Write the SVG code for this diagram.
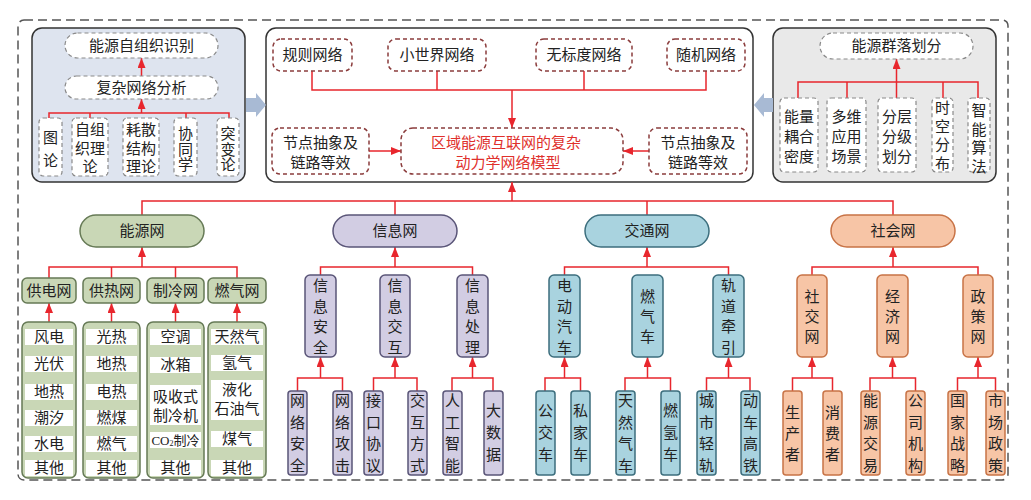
<svg xmlns="http://www.w3.org/2000/svg" width="1031" height="500" viewBox="0 0 1031 500">
<defs>
<style>
text{font-family:"Liberation Serif","Noto Sans CJK SC",serif;font-size:15px;fill:#222;text-anchor:middle;dominant-baseline:central}
.red{fill:#e0302c}
.ln{fill:none;stroke:#e8262d;stroke-width:1.5}
.ar{fill:none;stroke:#e8262d;stroke-width:1.5;marker-end:url(#ah)}
.gd{fill:#fff;stroke:#8a8a8a;stroke-width:1.2;stroke-dasharray:4 3}
.rd{fill:#fff;stroke:#8b3c3c;stroke-width:1.5;stroke-dasharray:4 3}
.en{fill:#c9d7b6;stroke:#667a56;stroke-width:1.5}
.inf{fill:#d2cde3;stroke:#5a5578;stroke-width:1.5}
.tr{fill:#a9d3df;stroke:#3c6e7d;stroke-width:1.5}
.so{fill:#f7c5a6;stroke:#c87346;stroke-width:1.5}
.wb{fill:#fff}
.blk{fill:#a8bad4}
</style>
<marker id="ah" markerWidth="10" markerHeight="8" refX="10" refY="4" orient="auto" markerUnits="userSpaceOnUse"><path d="M0,0 L10,4 L0,8 z" fill="#e8262d"/></marker>
</defs>
<rect x="0" y="0" width="1031" height="500" fill="#fff"/>
<rect x="18" y="20" width="990" height="460" rx="6" fill="none" stroke="#555" stroke-width="1.5" stroke-dasharray="9 5"/>

<!-- panels -->
<g id="panel-left">
<rect x="32" y="28" width="213" height="154" rx="10" fill="#dee4ef" stroke="#333" stroke-width="1.5"/>
</g>
<g id="panel-mid">
<rect x="266" y="28" width="487" height="154" rx="10" fill="#fff" stroke="#333" stroke-width="1.5"/>
</g>
<g id="panel-right">
<rect x="773" y="28" width="223" height="154" rx="10" fill="#e9e9e9" stroke="#333" stroke-width="1.5"/>
</g>
<polygon class="blk" points="246,98 256,98 256,93 266,105 256,117 256,112 246,112"/>
<polygon class="blk" points="773,98 764,98 764,93 754,105 764,117 764,112 773,112"/>

<!-- connectors -->
<g id="connectors">
<!-- left panel -->
<line class="ar" x1="141.5" y1="76" x2="141.5" y2="58"/>
<polyline class="ln" points="49,118 49,113 229,113 229,118"/>
<line class="ln" x1="90" y1="113" x2="90" y2="118"/>
<line class="ln" x1="186" y1="113" x2="186" y2="118"/>
<line class="ar" x1="141.5" y1="113" x2="141.5" y2="99"/>
<!-- mid panel -->
<polyline class="ln" points="312,71 312,90 706,90 706,71"/>
<line class="ln" x1="437" y1="71" x2="437" y2="90"/>
<line class="ln" x1="584" y1="71" x2="584" y2="90"/>
<line class="ar" x1="512" y1="90" x2="512" y2="128"/>
<line class="ar" x1="369" y1="151" x2="401" y2="151"/>
<line class="ar" x1="649" y1="151" x2="623" y2="151"/>
<!-- right panel -->
<polyline class="ln" points="798,98 798,82 978,82 978,98"/>
<line class="ln" x1="847" y1="82" x2="847" y2="98"/>
<line class="ln" x1="943" y1="82" x2="943" y2="98"/>
<line class="ar" x1="896.5" y1="98" x2="896.5" y2="59"/>
<!-- main bus -->
<polyline class="ln" points="142,215 142,201 893,201 893,215"/>
<line class="ln" x1="395" y1="201" x2="395" y2="215"/>
<line class="ln" x1="647" y1="201" x2="647" y2="215"/>
<line class="ar" x1="512" y1="201" x2="512" y2="182"/>
<!-- energy -->
<polyline class="ln" points="49,278 49,267 237,267 237,278"/>
<line class="ln" x1="111.5" y1="267" x2="111.5" y2="278"/>
<line class="ln" x1="175.5" y1="267" x2="175.5" y2="278"/>
<line class="ar" x1="142" y1="267" x2="142" y2="247"/>
<line class="ar" x1="49" y1="322" x2="49" y2="303"/>
<line class="ar" x1="111.5" y1="322" x2="111.5" y2="303"/>
<line class="ar" x1="175.5" y1="322" x2="175.5" y2="303"/>
<line class="ar" x1="237" y1="322" x2="237" y2="303"/>
<!-- info -->
<polyline class="ln" points="320.5,275 320.5,267 472.5,267 472.5,275"/>
<line class="ar" x1="395" y1="267" x2="395" y2="247"/>
<polyline class="ln" points="297.5,391 297.5,378 342.5,378 342.5,391"/>
<line class="ar" x1="320.5" y1="378" x2="320.5" y2="357"/>
<polyline class="ln" points="373.5,391 373.5,378 417,378 417,391"/>
<line class="ar" x1="395" y1="378" x2="395" y2="357"/>
<polyline class="ln" points="452,391 452,378 493,378 493,391"/>
<line class="ar" x1="472.5" y1="378" x2="472.5" y2="357"/>
<!-- traffic -->
<polyline class="ln" points="564.5,275 564.5,267 728.5,267 728.5,275"/>
<line class="ar" x1="647" y1="267" x2="647" y2="247"/>
<polyline class="ln" points="545,391 545,378 580.5,378 580.5,391"/>
<line class="ar" x1="564.5" y1="378" x2="564.5" y2="357"/>
<polyline class="ln" points="625,391 625,378 670.5,378 670.5,391"/>
<line class="ar" x1="647.5" y1="378" x2="647.5" y2="357"/>
<polyline class="ln" points="706.5,391 706.5,378 750,378 750,391"/>
<line class="ar" x1="728.5" y1="378" x2="728.5" y2="357"/>
<!-- social -->
<polyline class="ln" points="812,275 812,267 978,267 978,275"/>
<line class="ar" x1="893" y1="267" x2="893" y2="247"/>
<polyline class="ln" points="792.5,391 792.5,378 832.5,378 832.5,391"/>
<line class="ar" x1="812" y1="378" x2="812" y2="357"/>
<polyline class="ln" points="870,391 870,378 915.5,378 915.5,391"/>
<line class="ar" x1="892.5" y1="378" x2="892.5" y2="357"/>
<polyline class="ln" points="957.5,391 957.5,378 995.5,378 995.5,391"/>
<line class="ar" x1="978" y1="378" x2="978" y2="357"/>
</g>

<!-- left panel nodes -->
<g id="n-zzzsb"><rect class="gd" x="65" y="33" width="153" height="25" rx="12.5"/><text x="141.5" y="45.5">能源自组织识别</text></g>
<g id="n-fzwlfx"><rect class="gd" x="65" y="76" width="153" height="23" rx="11.5"/><text x="141.5" y="87.5">复杂网络分析</text></g>
<g id="n-tl"><rect class="gd" x="39" y="118" width="23" height="58" rx="4"/><text><tspan x="50.5" y="138">图</tspan><tspan x="50.5" y="161">论</tspan></text></g>
<g id="n-zzzll"><rect class="gd" x="72" y="118" width="36" height="58" rx="4"/><text><tspan x="90" y="130">自组</tspan><tspan x="90" y="148.5">织理</tspan><tspan x="90" y="167">论</tspan></text></g>
<g id="n-hsjgll"><rect class="gd" x="123" y="118" width="36" height="58" rx="4"/><text><tspan x="141" y="130">耗散</tspan><tspan x="141" y="148.5">结构</tspan><tspan x="141" y="167">理论</tspan></text></g>
<g id="n-xtx"><rect class="gd" x="174" y="118" width="23" height="58" rx="4"/><text><tspan x="185.5" y="134">协</tspan><tspan x="185.5" y="149.5">同</tspan><tspan x="185.5" y="165">学</tspan></text></g>
<g id="n-tbl"><rect class="gd" x="217" y="118" width="22" height="58" rx="4"/><text><tspan x="228" y="134">突</tspan><tspan x="228" y="149.5">变</tspan><tspan x="228" y="165">论</tspan></text></g>

<!-- mid panel nodes -->
<g id="n-gzwl"><rect class="rd" x="273" y="39" width="79" height="32" rx="8"/><text x="312.5" y="55">规则网络</text></g>
<g id="n-xsjwl"><rect class="rd" x="388" y="39" width="98" height="32" rx="8"/><text x="437" y="55">小世界网络</text></g>
<g id="n-wbdwl"><rect class="rd" x="536" y="39" width="96" height="32" rx="8"/><text x="584" y="55">无标度网络</text></g>
<g id="n-sjwl"><rect class="rd" x="667" y="39" width="78" height="32" rx="8"/><text x="706" y="55">随机网络</text></g>
<g id="n-model"><rect class="rd" x="401" y="128" width="222" height="46" rx="12"/><text class="red"><tspan x="506" y="143">区域能源互联网的复杂</tspan><tspan x="508" y="163">动力学网络模型</tspan></text></g>
<g id="n-jdcx-l"><rect class="rd" x="272" y="128" width="97" height="46" rx="8"/><text><tspan x="320.5" y="143">节点抽象及</tspan><tspan x="320.5" y="163">链路等效</tspan></text></g>
<g id="n-jdcx-r"><rect class="rd" x="649" y="128" width="98" height="46" rx="8"/><text><tspan x="698" y="143">节点抽象及</tspan><tspan x="698" y="163">链路等效</tspan></text></g>

<!-- right panel nodes -->
<g id="n-qlhf"><rect class="gd" x="820" y="33" width="153" height="26" rx="13"/><text x="896.5" y="46">能源群落划分</text></g>
<g id="n-nlohmd"><rect class="gd" x="780" y="98" width="38" height="74" rx="4"/><text><tspan x="799" y="117">能量</tspan><tspan x="799" y="137">耦合</tspan><tspan x="799" y="157">密度</tspan></text></g>
<g id="n-dwyycj"><rect class="gd" x="827" y="98" width="39" height="74" rx="4"/><text><tspan x="846.5" y="117">多维</tspan><tspan x="846.5" y="137">应用</tspan><tspan x="846.5" y="157">场景</tspan></text></g>
<g id="n-fcfjhf"><rect class="gd" x="878" y="98" width="38" height="74" rx="4"/><text><tspan x="897" y="117">分层</tspan><tspan x="897" y="137">分级</tspan><tspan x="897" y="157">划分</tspan></text></g>
<g id="n-skfb"><rect class="gd" x="932" y="98" width="21" height="74" rx="4"/><text><tspan x="942.5" y="108">时</tspan><tspan x="942.5" y="126.5">空</tspan><tspan x="942.5" y="145">分</tspan><tspan x="942.5" y="163.5">布</tspan></text></g>
<g id="n-znsf"><rect class="gd" x="968" y="98" width="22" height="74" rx="4"/><text><tspan x="979" y="111">智</tspan><tspan x="979" y="129.5">能</tspan><tspan x="979" y="148">算</tspan><tspan x="979" y="166.5">法</tspan></text></g>

<!-- level 1 -->
<g id="n-nyw"><rect class="en" x="80" y="215" width="124" height="32" rx="16"/><text x="142" y="231">能源网</text></g>
<g id="n-xxw"><rect class="inf" x="333" y="215" width="124" height="32" rx="16"/><text x="395" y="231">信息网</text></g>
<g id="n-jtw"><rect class="tr" x="585" y="215" width="124" height="32" rx="16"/><text x="647" y="231">交通网</text></g>
<g id="n-shw"><rect class="so" x="831" y="215" width="124" height="32" rx="16"/><text x="893" y="231">社会网</text></g>

<!-- energy -->
<g id="n-gdw"><rect class="en" x="22" y="278" width="54" height="25" rx="5"/><text x="49" y="290.5">供电网</text></g>
<g id="n-grw"><rect class="en" x="83" y="278" width="57" height="25" rx="5"/><text x="111.5" y="290.5">供热网</text></g>
<g id="n-zlw"><rect class="en" x="147" y="278" width="57" height="25" rx="5"/><text x="175.5" y="290.5">制冷网</text></g>
<g id="n-rqw"><rect class="en" x="208" y="278" width="58" height="25" rx="5"/><text x="237" y="290.5">燃气网</text></g>

<g id="n-list-gd"><rect class="en" x="22" y="322" width="54" height="156" rx="6"/>
<rect class="wb" x="25" y="329" width="48" height="16"/><text x="49" y="337">风电</text>
<rect class="wb" x="25" y="356" width="48" height="16"/><text x="49" y="364">光伏</text>
<rect class="wb" x="25" y="384" width="48" height="16"/><text x="49" y="392">地热</text>
<rect class="wb" x="25" y="410" width="48" height="16"/><text x="49" y="418">潮汐</text>
<rect class="wb" x="25" y="436" width="48" height="16"/><text x="49" y="444">水电</text>
<rect class="wb" x="25" y="460" width="48" height="16"/><text x="49" y="468">其他</text>
</g>
<g id="n-list-gr"><rect class="en" x="83" y="322" width="57" height="156" rx="6"/>
<rect class="wb" x="86" y="329" width="51" height="16"/><text x="111.5" y="337">光热</text>
<rect class="wb" x="86" y="356" width="51" height="16"/><text x="111.5" y="364">地热</text>
<rect class="wb" x="86" y="384" width="51" height="16"/><text x="111.5" y="392">电热</text>
<rect class="wb" x="86" y="410" width="51" height="16"/><text x="111.5" y="418">燃煤</text>
<rect class="wb" x="86" y="436" width="51" height="16"/><text x="111.5" y="444">燃气</text>
<rect class="wb" x="86" y="460" width="51" height="16"/><text x="111.5" y="468">其他</text>
</g>
<g id="n-list-zl"><rect class="en" x="147" y="322" width="57" height="156" rx="6"/>
<rect class="wb" x="150" y="329" width="51" height="16"/><text x="175.5" y="337">空调</text>
<rect class="wb" x="150" y="357" width="51" height="16"/><text x="175.5" y="365">冰箱</text>
<rect class="wb" x="150" y="385" width="51" height="40"/><text><tspan x="175.5" y="397">吸收式</tspan><tspan x="175.5" y="416">制冷机</tspan></text>
<rect class="wb" x="150" y="432" width="51" height="16"/><text x="175.5" y="440" style="font-size:13px">CO<tspan dy="3" style="font-size:8px">2</tspan><tspan dy="-3">制冷</tspan></text>
<rect class="wb" x="150" y="460" width="51" height="16"/><text x="175.5" y="468">其他</text>
</g>
<g id="n-list-rq"><rect class="en" x="208" y="322" width="58" height="156" rx="6"/>
<rect class="wb" x="211" y="329" width="52" height="16"/><text x="237" y="337">天然气</text>
<rect class="wb" x="211" y="355" width="52" height="16"/><text x="237" y="363">氢气</text>
<rect class="wb" x="211" y="380" width="52" height="40"/><text><tspan x="237" y="390">液化</tspan><tspan x="237" y="409">石油气</tspan></text>
<rect class="wb" x="211" y="431" width="52" height="16"/><text x="237" y="439">煤气</text>
<rect class="wb" x="211" y="460" width="52" height="16"/><text x="237" y="468">其他</text>
</g>

<!-- info -->
<g id="n-xxaq"><rect class="inf" x="305" y="275" width="31" height="82" rx="5"/><text><tspan x="320.5" y="286">信</tspan><tspan x="320.5" y="306.5">息</tspan><tspan x="320.5" y="327">安</tspan><tspan x="320.5" y="347.5">全</tspan></text></g>
<g id="n-xxjh"><rect class="inf" x="380" y="275" width="30" height="82" rx="5"/><text><tspan x="395" y="286">信</tspan><tspan x="395" y="306.5">息</tspan><tspan x="395" y="327">交</tspan><tspan x="395" y="347.5">互</tspan></text></g>
<g id="n-xxcl"><rect class="inf" x="457" y="275" width="31" height="82" rx="5"/><text><tspan x="472.5" y="286">信</tspan><tspan x="472.5" y="306.5">息</tspan><tspan x="472.5" y="327">处</tspan><tspan x="472.5" y="347.5">理</tspan></text></g>
<g id="n-wlaq"><rect class="inf" x="288" y="391" width="19" height="84" rx="3"/><text><tspan x="297.5" y="401">网</tspan><tspan x="297.5" y="422.5">络</tspan><tspan x="297.5" y="444">安</tspan><tspan x="297.5" y="465.5">全</tspan></text></g>
<g id="n-wlgj"><rect class="inf" x="333" y="391" width="19" height="84" rx="3"/><text><tspan x="342.5" y="401">网</tspan><tspan x="342.5" y="422.5">络</tspan><tspan x="342.5" y="444">攻</tspan><tspan x="342.5" y="465.5">击</tspan></text></g>
<g id="n-jkxy"><rect class="inf" x="364" y="391" width="19" height="84" rx="3"/><text><tspan x="373.5" y="401">接</tspan><tspan x="373.5" y="422.5">口</tspan><tspan x="373.5" y="444">协</tspan><tspan x="373.5" y="465.5">议</tspan></text></g>
<g id="n-jhfs"><rect class="inf" x="408" y="391" width="19" height="84" rx="3"/><text><tspan x="417.5" y="401">交</tspan><tspan x="417.5" y="422.5">互</tspan><tspan x="417.5" y="444">方</tspan><tspan x="417.5" y="465.5">式</tspan></text></g>
<g id="n-rgzn"><rect class="inf" x="443" y="391" width="19" height="84" rx="3"/><text><tspan x="452.5" y="401">人</tspan><tspan x="452.5" y="422.5">工</tspan><tspan x="452.5" y="444">智</tspan><tspan x="452.5" y="465.5">能</tspan></text></g>
<g id="n-dsj"><rect class="inf" x="484" y="391" width="19" height="84" rx="3"/><text><tspan x="493.5" y="411">大</tspan><tspan x="493.5" y="433">数</tspan><tspan x="493.5" y="455">据</tspan></text></g>

<!-- traffic -->
<g id="n-ddqc"><rect class="tr" x="549" y="275" width="31" height="82" rx="5"/><text><tspan x="564.5" y="286">电</tspan><tspan x="564.5" y="306.5">动</tspan><tspan x="564.5" y="327">汽</tspan><tspan x="564.5" y="347.5">车</tspan></text></g>
<g id="n-rqc"><rect class="tr" x="632" y="275" width="31" height="82" rx="5"/><text><tspan x="647.5" y="297">燃</tspan><tspan x="647.5" y="317">气</tspan><tspan x="647.5" y="337">车</tspan></text></g>
<g id="n-gdqy"><rect class="tr" x="713" y="275" width="31" height="82" rx="5"/><text><tspan x="728.5" y="286">轨</tspan><tspan x="728.5" y="306.5">道</tspan><tspan x="728.5" y="327">牵</tspan><tspan x="728.5" y="347.5">引</tspan></text></g>
<g id="n-gjc"><rect class="tr" x="536" y="391" width="19" height="84" rx="3"/><text><tspan x="545.5" y="411">公</tspan><tspan x="545.5" y="433">交</tspan><tspan x="545.5" y="455">车</tspan></text></g>
<g id="n-sjc"><rect class="tr" x="571" y="391" width="19" height="84" rx="3"/><text><tspan x="580.5" y="411">私</tspan><tspan x="580.5" y="433">家</tspan><tspan x="580.5" y="455">车</tspan></text></g>
<g id="n-trqc"><rect class="tr" x="616" y="391" width="19" height="84" rx="3"/><text><tspan x="625.5" y="401">天</tspan><tspan x="625.5" y="422.5">然</tspan><tspan x="625.5" y="444">气</tspan><tspan x="625.5" y="465.5">车</tspan></text></g>
<g id="n-rqc2"><rect class="tr" x="661" y="391" width="19" height="84" rx="3"/><text><tspan x="670.5" y="411">燃</tspan><tspan x="670.5" y="433">氢</tspan><tspan x="670.5" y="455">车</tspan></text></g>
<g id="n-csqg"><rect class="tr" x="697" y="391" width="19" height="84" rx="3"/><text><tspan x="706.5" y="401">城</tspan><tspan x="706.5" y="422.5">市</tspan><tspan x="706.5" y="444">轻</tspan><tspan x="706.5" y="465.5">轨</tspan></text></g>
<g id="n-dcgt"><rect class="tr" x="741" y="391" width="19" height="84" rx="3"/><text><tspan x="750.5" y="401">动</tspan><tspan x="750.5" y="422.5">车</tspan><tspan x="750.5" y="444">高</tspan><tspan x="750.5" y="465.5">铁</tspan></text></g>

<!-- social -->
<g id="n-sjw"><rect class="so" x="797" y="275" width="30" height="82" rx="5"/><text><tspan x="812" y="297">社</tspan><tspan x="812" y="317">交</tspan><tspan x="812" y="337">网</tspan></text></g>
<g id="n-jjw"><rect class="so" x="877" y="275" width="31" height="82" rx="5"/><text><tspan x="892.5" y="297">经</tspan><tspan x="892.5" y="317">济</tspan><tspan x="892.5" y="337">网</tspan></text></g>
<g id="n-zcw"><rect class="so" x="963" y="275" width="30" height="82" rx="5"/><text><tspan x="978" y="297">政</tspan><tspan x="978" y="317">策</tspan><tspan x="978" y="337">网</tspan></text></g>
<g id="n-scz"><rect class="so" x="783" y="391" width="19" height="84" rx="3"/><text><tspan x="792.5" y="413">生</tspan><tspan x="792.5" y="434">产</tspan><tspan x="792.5" y="455">者</tspan></text></g>
<g id="n-xfz"><rect class="so" x="823" y="391" width="19" height="84" rx="3"/><text><tspan x="832.5" y="413">消</tspan><tspan x="832.5" y="434">费</tspan><tspan x="832.5" y="455">者</tspan></text></g>
<g id="n-nyjy"><rect class="so" x="861" y="391" width="19" height="84" rx="3"/><text><tspan x="870.5" y="401">能</tspan><tspan x="870.5" y="422.5">源</tspan><tspan x="870.5" y="444">交</tspan><tspan x="870.5" y="465.5">易</tspan></text></g>
<g id="n-gsjg"><rect class="so" x="906" y="391" width="19" height="84" rx="3"/><text><tspan x="915.5" y="401">公</tspan><tspan x="915.5" y="422.5">司</tspan><tspan x="915.5" y="444">机</tspan><tspan x="915.5" y="465.5">构</tspan></text></g>
<g id="n-gjzl"><rect class="so" x="948" y="391" width="19" height="84" rx="3"/><text><tspan x="957.5" y="401">国</tspan><tspan x="957.5" y="422.5">家</tspan><tspan x="957.5" y="444">战</tspan><tspan x="957.5" y="465.5">略</tspan></text></g>
<g id="n-sczc"><rect class="so" x="986" y="391" width="19" height="84" rx="3"/><text><tspan x="995.5" y="401">市</tspan><tspan x="995.5" y="422.5">场</tspan><tspan x="995.5" y="444">政</tspan><tspan x="995.5" y="465.5">策</tspan></text></g>
</svg>
